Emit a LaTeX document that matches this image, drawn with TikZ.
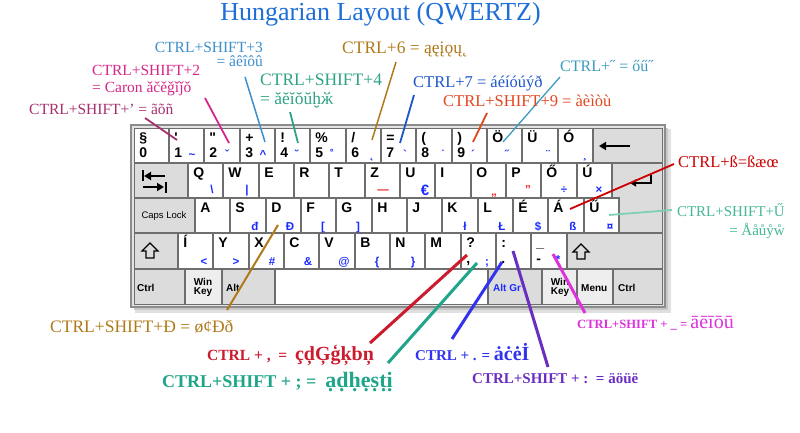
\documentclass[tikz,border=0pt]{standalone}
\usepackage{fontspec}
\setmainfont{Liberation Serif}
\newfontfamily\kbf{Liberation Sans}
\usetikzlibrary{arrows.meta}
\newcommand\FSZ[1]{\fontsize{#1}{#1}\selectfont}
\definecolor{ctitle}{HTML}{1F6FD6}
\definecolor{cthree}{HTML}{3D8FCB}
\definecolor{ctwo}{HTML}{D6268A}
\definecolor{capo}{HTML}{A82F6F}
\definecolor{cfour}{HTML}{2FA386}
\definecolor{csix}{HTML}{B07A1A}
\definecolor{cseven}{HTML}{1E56C8}
\definecolor{cnine}{HTML}{E2461C}
\definecolor{cdq}{HTML}{3C9CC0}
\definecolor{csz}{HTML}{CC0000}
\definecolor{cuu}{HTML}{45B898}
\definecolor{cuul}{HTML}{7FD0B5}
\definecolor{ccom}{HTML}{CC1A2E}
\definecolor{csemi}{HTML}{1FA58A}
\definecolor{cdot}{HTML}{3333EE}
\definecolor{ccol}{HTML}{6A2EC0}
\definecolor{cund}{HTML}{DD33DD}
\definecolor{kblue}{HTML}{1A2BFF}
\definecolor{kred}{HTML}{EE2222}
\definecolor{kbline}{HTML}{6E6E6E}
\definecolor{kgrey}{HTML}{DCDCDC}
\definecolor{kwin}{HTML}{EEEEEE}
\newcommand\kk[6]{\node[keybox,#6,minimum width={(#4-#2-1)*1pt},minimum height={(#5-#3-1)*1pt}] (#1) at ({(#2+#4)/2},{(#3+#5)/2}) {};}
\newcommand\tl[2]{\node[lgd,anchor=base west] (#1-t) at ([xshift=5pt,yshift=-14pt]#1.north west) {#2};}
\newcommand\bl[2]{\node[lgd,anchor=base west] (#1-b) at ([xshift=5pt,yshift=5pt]#1.south west) {#2};}
\newcommand\bz[4]{\node[blg,anchor=base] (#1) at (#2,#3) {#4};}
\begin{document}
\begin{tikzpicture}[x=1pt,y=-1pt,
  keybox/.style={draw=kbline,line width=0.8pt,rectangle,inner sep=0pt,fill=white},
  gk/.style={fill=kgrey},
  wk/.style={fill=kwin},
  lgd/.style={font=\kbf\bfseries\FSZ{14},inner sep=0pt,text=black},
  blg/.style={font=\kbf\bfseries\FSZ{11.5},inner sep=0pt,text=kblue},
  sml/.style={font=\kbf\bfseries\FSZ{10},inner sep=0pt,text=black},
  lab/.style={inner sep=0pt},
  lead/.style={line width=1.8pt}]
\useasboundingbox (0,0) rectangle (800,433);
\fill[white] (0,0) rectangle (800,433);
% title
\node[lab,anchor=base,text=ctitle,font=\FSZ{26}] (title) at (380.5,21) {Hungarian Layout (QWERTZ)};
% keyboard frame with shadow
\fill[black!12] (135,129) rectangle (671,313);
\fill[black!22] (134,128) rectangle (668,310);
\fill[kgrey!80] (131,125) rectangle (665,307);
\draw[black!45,line width=1.5pt] (131,125) rectangle (665,307);
% row 1
\kk{k0}{134}{128}{169}{163}{}
\kk{k1}{169}{128}{204}{163}{}
\kk{k2}{204}{128}{240}{163}{}
\kk{k3}{240}{128}{275}{163}{}
\kk{k4}{275}{128}{310}{163}{}
\kk{k5}{310}{128}{346}{163}{}
\kk{k6}{346}{128}{381}{163}{}
\kk{k7}{381}{128}{416}{163}{}
\kk{k8}{416}{128}{452}{163}{}
\kk{k9}{452}{128}{487}{163}{}
\kk{kOd}{487}{128}{522}{163}{}
\kk{kUd}{522}{128}{558}{163}{}
\kk{kOa}{558}{128}{593}{163}{}
\kk{kBs}{593}{128}{663}{163}{gk}
% row 2
\kk{kTab}{134}{163}{188}{198}{gk}
\kk{kQ}{188}{163}{223}{198}{}
\kk{kW}{223}{163}{259}{198}{}
\kk{kE}{259}{163}{294}{198}{}
\kk{kR}{294}{163}{329}{198}{}
\kk{kT}{329}{163}{365}{198}{}
\kk{kZ}{365}{163}{400}{198}{}
\kk{kU}{400}{163}{435}{198}{}
\kk{kI}{435}{163}{471}{198}{}
\kk{kO}{471}{163}{506}{198}{}
\kk{kP}{506}{163}{541}{198}{}
\kk{kOo}{541}{163}{577}{198}{}
\kk{kUa}{577}{163}{612}{198}{}
\filldraw[fill=kgrey,draw=kbline,line width=0.8pt] (612.5,163.5) -- (662.5,163.5) -- (662.5,232.5) -- (619.5,232.5) -- (619.5,197.5) -- (612.5,197.5) -- cycle;
% row 3
\kk{kCaps}{134}{198}{195}{233}{gk}
\kk{kA}{195}{198}{230}{233}{}
\kk{kS}{230}{198}{266}{233}{}
\kk{kD}{266}{198}{301}{233}{}
\kk{kF}{301}{198}{336}{233}{}
\kk{kG}{336}{198}{372}{233}{}
\kk{kH}{372}{198}{407}{233}{}
\kk{kJ}{407}{198}{442}{233}{}
\kk{kK}{442}{198}{478}{233}{}
\kk{kL}{478}{198}{513}{233}{}
\kk{kEa}{513}{198}{548}{233}{}
\kk{kAa}{548}{198}{584}{233}{}
\kk{kUu}{584}{198}{619}{233}{}
% row 4
\kk{kLs}{134}{233}{178}{269}{gk}
\kk{kIa}{178}{233}{213}{269}{}
\kk{kY}{213}{233}{249}{269}{}
\kk{kX}{249}{233}{284}{269}{}
\kk{kC}{284}{233}{319}{269}{}
\kk{kV}{319}{233}{355}{269}{}
\kk{kB}{355}{233}{390}{269}{}
\kk{kN}{390}{233}{425}{269}{}
\kk{kM}{425}{233}{461}{269}{}
\kk{kCom}{461}{233}{496}{269}{}
\kk{kDot}{496}{233}{531}{269}{}
\kk{kMin}{531}{233}{567}{269}{}
\kk{kRs}{567}{233}{663}{269}{gk}
% row 5
\kk{kCl}{134}{269}{185}{305}{gk}
\kk{kWl}{185}{269}{222}{305}{wk}
\kk{kAlt}{222}{269}{275}{305}{gk}
\kk{kSp}{275}{269}{488}{305}{}
\kk{kAgr}{488}{269}{542}{305}{gk}
\kk{kWr}{542}{269}{577}{305}{wk}
\kk{kMenu}{577}{269}{613}{305}{wk}
\kk{kCr}{613}{269}{663}{305}{gk}
% legends row 1
\tl{k0}{§}\bl{k0}{0}
\tl{k1}{'}\bl{k1}{1}
\tl{k2}{"}\bl{k2}{2}
\tl{k3}{+}\bl{k3}{3}
\tl{k4}{!}\bl{k4}{4}
\tl{k5}{\%}\bl{k5}{5}
\tl{k6}{/}\bl{k6}{6}
\tl{k7}{=}\bl{k7}{7}
\tl{k8}{(}\bl{k8}{8}
\tl{k9}{)}\bl{k9}{9}
\tl{kOd}{Ö}\tl{kUd}{Ü}\tl{kOa}{Ó}
% row 2
\tl{kQ}{Q}\tl{kW}{W}\tl{kE}{E}\tl{kR}{R}\tl{kT}{T}\tl{kZ}{Z}
\tl{kU}{U}\tl{kI}{I}\tl{kO}{O}\tl{kP}{P}\tl{kOo}{Ő}\tl{kUa}{Ú}
% row 3
\tl{kA}{A}\tl{kS}{S}\tl{kD}{D}\tl{kF}{F}\tl{kG}{G}\tl{kH}{H}
\tl{kJ}{J}\tl{kK}{K}\tl{kL}{L}\tl{kEa}{É}\tl{kAa}{Á}\tl{kUu}{Ű}
% row 4
\tl{kIa}{Í}\tl{kY}{Y}\tl{kX}{X}\tl{kC}{C}\tl{kV}{V}\tl{kB}{B}
\tl{kN}{N}\tl{kM}{M}
\tl{kCom}{?}\bl{kCom}{,}
\tl{kDot}{:}\bl{kDot}{.}
\tl{kMin}{\_}\bl{kMin}{-}
% blue legends
\bz{b1}{192}{158}{\textasciitilde}
\bz{b2}{227}{158}{ˇ}
\bz{b3}{263}{158}{\textasciicircum}
\bz{b4}{297}{158}{˘}
\bz{b5}{332}{158}{˚}
\bz{b6}{372}{158}{˛}
\bz{b7}{405}{158}{`}
\bz{b8}{443}{158}{˙}
\bz{b9}{473}{158}{´}
\bz{bOd}{507}{158}{˝}
\bz{bUd}{548}{158}{¨}
\bz{bOa}{585}{158}{¸}
\bz{bQ}{212}{193}{\textbackslash}
\bz{bW}{247}{193}{|}
\node[blg,anchor=base,text=kred] (bZ) at (383,193) {—};
\node[blg,anchor=base,font=\kbf\bfseries\FSZ{15}] (bU) at (425,195) {€};
\node[blg,anchor=base,text=kred] (bO) at (494,195) {„};
\node[blg,anchor=base,text=kred] (bP) at (528,193) {”};
\bz{bOo}{564}{193}{÷}
\bz{bUa}{599}{193}{×}
\bz{bS}{255}{230}{đ}
\bz{bD}{290}{230}{Đ}
\bz{bF}{323}{230}{[}
\bz{bG}{358}{230}{]}
\bz{bK}{465}{230}{ł}
\bz{bL}{502}{230}{Ł}
\bz{bEa}{538}{230}{\$}
\bz{bAa}{573}{230}{ß}
\bz{bUu}{610}{230}{¤}
\bz{bIa}{204}{265}{<}
\bz{bY}{236}{265}{>}
\bz{bX}{272}{265}{\#}
\bz{bC}{308}{265}{\&}
\bz{bV}{344}{265}{@}
\bz{bB}{377}{265}{\{}
\bz{bN}{413}{265}{\}}
\bz{bCom}{487}{265}{;}
\bz{bMin}{558}{263}{*}
% modifier texts
\node[font=\kbf\FSZ{9.5},inner sep=0pt] (tCaps) at (164,216) {Caps Lock};
\node[sml,anchor=west] (tCl) at (137,288) {Ctrl};
\node[sml,align=center] (tWl) at (203,287) {Win\\[-1pt]Key};
\node[sml,anchor=west] (tAlt) at (226,288) {Alt};
\node[sml,anchor=west,text=kblue] (tAgr) at (493,288) {Alt Gr};
\node[sml,align=center] (tWr) at (560,287) {Win\\[-1pt]Key};
\node[sml,anchor=west] (tMenu) at (581,288) {Menu};
\node[sml,anchor=west] (tCr) at (618,288) {Ctrl};
% symbols
\draw[line width=2pt,-{Triangle[length=7pt,width=8pt]}] (630,146) -- (599,146);
\draw[line width=1.5pt,-{Triangle[length=6pt,width=7pt]}] (651,175) -- (651,183) -- (630,183);
\draw[line width=1.8pt,-{Triangle[length=7pt,width=8pt]}] (165,176) -- (144,176);
\draw[line width=2pt] (142.5,170) -- (142.5,181);
\draw[line width=1.8pt,-{Triangle[length=7pt,width=8pt]}] (143,187) -- (164,187);
\draw[line width=2pt] (165.5,182) -- (165.5,193);
\draw[line width=1.2pt,line join=miter] (150,243) -- (158,251) -- (154,251) -- (154,258) -- (146,258) -- (146,251) -- (142,251) -- cycle;
\draw[line width=1.2pt,line join=miter] (581,244) -- (589,252) -- (585,252) -- (585,259) -- (577,259) -- (577,252) -- (573,252) -- cycle;
% leader end points
\coordinate (a3) at (245,77);  \coordinate (z3) at (265,142);
\coordinate (a2) at (205,98);  \coordinate (z2) at (229,143);
\coordinate (aap) at (145,118); \coordinate (zap) at (177,140);
\coordinate (a4) at (290,112); \coordinate (z4) at (298,143);
\coordinate (a6) at (396,62);  \coordinate (z6) at (372,140);
\coordinate (a7) at (414,95);  \coordinate (z7) at (400,143);
\coordinate (a9) at (487,113); \coordinate (z9) at (473,142);
\coordinate (adq) at (560,77); \coordinate (zdq) at (503,142);
\coordinate (asz) at (674,164); \coordinate (zsz) at (570,209);
\coordinate (auu) at (672,210); \coordinate (zuu) at (609,215);
\coordinate (add) at (227,310); \coordinate (zdd) at (278,225);
\coordinate (acom) at (370,343); \coordinate (zcom) at (467,255);
\coordinate (asemi) at (388,363); \coordinate (zsemi) at (477,263);
\coordinate (adot) at (452,339); \coordinate (zdot) at (502,262);
\coordinate (acol) at (548,367); \coordinate (zcol) at (513,251);
\coordinate (aund) at (585,313); \coordinate (zund) at (553,254);
\draw[lead,cthree,line width=1.5pt] (a3) -- (z3);
\draw[lead,ctwo] (a2) -- (z2);
\draw[lead,capo] (aap) -- (zap);
\draw[lead,cfour] (a4) -- (z4);
\draw[lead,csix,line width=1.5pt] (a6) -- (z6);
\draw[lead,cseven] (a7) -- (z7);
\draw[lead,cnine] (a9) -- (z9);
\draw[lead,cdq,line width=1.3pt] (adq) -- (zdq);
\draw[lead,csz] (asz) -- (zsz);
\draw[lead,cuul] (auu) -- (zuu);
\draw[lead,csix,line width=2pt] (add) -- (zdd);
\draw[lead,ccom,line width=3pt] (acom) -- (zcom);
\draw[lead,csemi,line width=3pt] (asemi) -- (zsemi);
\draw[lead,cdot,line width=3pt] (adot) -- (zdot);
\draw[lead,ccol,line width=3pt] (acol) -- (zcol);
\draw[lead,cund,line width=3pt] (aund) -- (zund);
% labels
\node[lab,anchor=base east,text=cthree,font=\FSZ{15.5}] (l3a) at (263,53) {CTRL+SHIFT+3};
\node[lab,anchor=base east,text=cthree,font=\FSZ{15.5}] (l3b) at (263,67) {= âêîôû};
\node[lab,anchor=base west,text=ctwo,font=\FSZ{15.5}] (l2a) at (92,76) {CTRL+SHIFT+2};
\node[lab,anchor=base west,text=ctwo,font=\FSZ{15.5}] (l2b) at (92,93) {= Caron ǎčěǧǐǰǒ};
\node[lab,anchor=base west,text=capo,font=\FSZ{15.5}] (lap) at (29,115) {CTRL+SHIFT+’ = ãõñ};
\node[lab,anchor=base west,text=cfour,font=\FSZ{17.5}] (l4a) at (260,86) {CTRL+SHIFT+4};
\node[lab,anchor=base west,text=cfour,font=\FSZ{17.5}] (l4b) at (260,105) {= ăĕĭŏŭḫӂ};
\node[lab,anchor=base west,text=csix,font=\FSZ{17.5}] (l6) at (342,54) {CTRL+6 = ąęįǫų˛};
\node[lab,anchor=base west,text=cseven,font=\FSZ{16.5}] (l7) at (413,88) {CTRL+7 = áéíóúýð};
\node[lab,anchor=base west,text=cnine,font=\FSZ{16.5}] (l9) at (443,107) {CTRL+SHIFT+9 = àèìòù};
\node[lab,anchor=base west,text=cdq,font=\FSZ{16}] (ldq) at (560,72) {CTRL+˝ = őű˝};
\node[lab,anchor=base west,text=csz,font=\FSZ{16.5}] (lsz) at (678,167) {CTRL+ß=ßæœ};
\node[lab,anchor=base east,text=cuu,font=\FSZ{15}] (luua) at (785,216) {CTRL+SHIFT+Ű};
\node[lab,anchor=base east,text=cuu,font=\FSZ{15}] (luub) at (785,235) {= Ååůẙẘ};
\node[lab,anchor=base west,text=csix,font=\FSZ{17.5}] (ldd) at (50,332) {CTRL+SHIFT+Đ = ø¢Đð};
\node[lab,anchor=base west,text=ccom] (lcom) at (207,360) {{\bfseries\FSZ{15.5}CTRL + ,\ \ =\ \ }{\bfseries\FSZ{20}çḑĢģķbņ}};
\node[lab,anchor=base west,text=csemi] (lsemi) at (162,387) {{\bfseries\FSZ{18}CTRL+SHIFT + ; =\ \ }{\bfseries\FSZ{22}ạḍḥẹṣṭị}};
\node[lab,anchor=base west,text=cdot] (ldot) at (415,360) {{\bfseries\FSZ{15}CTRL + . = }{\bfseries\FSZ{20}ȧċėİ}};
\node[lab,anchor=base west,text=ccol,font=\bfseries\FSZ{15}] (lcol) at (472,383) {CTRL+SHIFT + :\ \ = äöüë};
\node[lab,anchor=base west,text=cund] (lund) at (577,328) {{\bfseries\FSZ{12.6}CTRL+SHIFT + \_ = }{\FSZ{20}āēīōū}};
\end{tikzpicture}
\end{document}
